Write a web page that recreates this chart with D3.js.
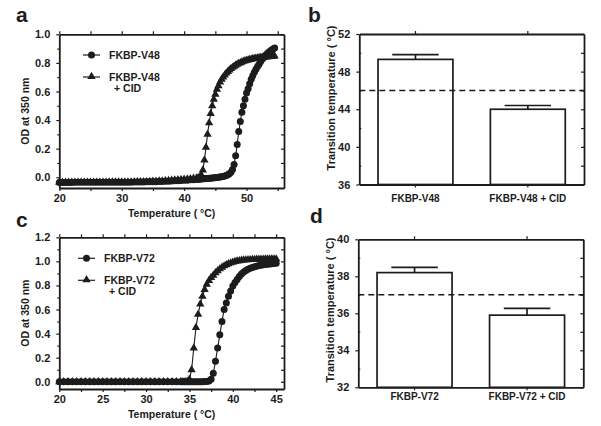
<!DOCTYPE html>
<html>
<head>
<meta charset="utf-8">
<script src="https://cdn.jsdelivr.net/npm/d3@7"></script>
<style>
body { margin: 0; background: #fff; }
svg { display: block; }
text { font-family: "Liberation Sans", Arial, sans-serif; font-weight: bold; fill: #1c1c1c; }
</style>
</head>
<body>
<script>
// ---- data ----
// panel a: FKBP-V48 turbidity
const tempA = [20,20.5,21,21.5,22,22.5,23,23.5,24,24.5,25,25.5,26,26.5,27,27.5,28,28.5,29,29.5,
  30,30.5,31,31.5,32,32.5,33,33.5,34,34.5,35,35.5,36,36.5,37,37.5,38,38.5,39,39.5,40,40.5,41,41.5,42,
  42.25,42.5,42.75,43,43.25,43.5,43.75,44,44.25,44.5,44.75,45,45.25,45.5,45.75,46,46.25,46.5,46.75,47,
  47.25,47.5,47.75,48,48.25,48.5,48.75,49,49.25,49.5,49.75,50,50.25,50.5,50.75,51,51.25,51.5,51.75,52,
  52.25,52.5,52.75,53,53.25,53.5,53.75,54,54.25,54.5]
const odV48 = [-0.036,-0.036,-0.036,-0.036,-0.036,-0.035,-0.035,-0.035,-0.035,-0.035,
  -0.035,-0.035,-0.035,-0.035,-0.035,-0.035,-0.034,-0.034,-0.034,-0.034,
  -0.034,-0.034,-0.034,-0.034,-0.033,-0.033,-0.033,-0.033,-0.032,-0.032,
  -0.031,-0.031,-0.03,-0.029,-0.028,-0.027,-0.026,-0.025,-0.024,-0.022,
  -0.021,-0.02,-0.018,-0.017,-0.015,
  -0.014,-0.013,-0.012,-0.011,-0.01,-0.009,-0.008,-0.007,-0.006,-0.005,
  -0.004,-0.003,-0.001,0.0,0.002,0.004,0.006,0.009,0.013,0.018,
  0.025,0.035,0.055,0.09,0.15,0.23,0.32,0.39,0.455,0.5,
  0.545,0.59,0.62,0.655,0.685,0.71,0.735,0.755,0.775,0.79,
  0.81,0.825,0.838,0.85,0.862,0.873,0.882,0.89,0.897,0.905]
const odV48cid = [-0.036,-0.036,-0.036,-0.036,-0.036,-0.035,-0.035,-0.035,-0.035,-0.035,
  -0.035,-0.035,-0.035,-0.035,-0.035,-0.035,-0.034,-0.034,-0.034,-0.034,
  -0.034,-0.034,-0.033,-0.033,-0.033,-0.032,-0.032,-0.031,-0.031,-0.03,
  -0.029,-0.028,-0.027,-0.026,-0.024,-0.023,-0.021,-0.02,-0.018,-0.016,
  -0.014,-0.012,-0.01,-0.008,-0.006,
  -0.004,-0.001,0.015,0.05,0.12,0.21,0.3,0.38,0.445,0.5,
  0.545,0.58,0.615,0.64,0.665,0.685,0.7,0.715,0.728,0.74,
  0.75,0.76,0.768,0.776,0.783,0.79,0.796,0.801,0.806,0.81,
  0.814,0.817,0.82,0.823,0.825,0.828,0.83,0.832,0.834,0.836,
  0.837,0.839,0.84,0.841,0.842,0.843,0.844,0.845,0.846,0.847]

// panel c: FKBP-V72 turbidity
const tempC = [20,20.5,21,21.5,22,22.5,23,23.5,24,24.5,25,25.5,26,26.5,27,27.5,28,28.5,29,29.5,
  30,30.5,31,31.5,32,32.5,33,33.5,34,
  34.25,34.5,34.75,35,35.25,35.5,35.75,36,36.25,36.5,36.75,37,37.25,37.5,37.75,38,38.25,38.5,38.75,39,
  39.25,39.5,39.75,40,40.25,40.5,40.75,41,41.25,41.5,41.75,42,42.25,42.5,42.75,43,43.25,43.5,43.75,44,
  44.25,44.5,44.75,45]
const odV72 = [0,0,0,0,0,0,0,0,0,0,0,0,0,0,0,0,0,0,0,0,0,0,0,0,0,0,0,0,0,
  0,0,0,0,0,0,0,0,0.001,0.001,0.002,0.003,
  0.006,0.02,0.07,0.17,0.28,0.39,0.5,0.6,0.655,0.71,
  0.755,0.795,0.825,0.85,0.875,0.895,0.912,0.925,0.935,0.942,
  0.949,0.955,0.96,0.965,0.968,0.971,0.974,0.977,0.979,0.981,
  0.983,0.985]
const odV72cid = [0,0,0,0,0,0,0,0,0,0,0,0,0,0,0,0,0,0,0,0,0,0,0,0,0,0,0,0,0,
  0,0,0.002,0.02,0.1,0.28,0.45,0.56,0.645,0.71,
  0.765,0.81,0.84,0.865,0.885,0.905,0.922,0.937,0.95,0.962,
  0.972,0.98,0.987,0.993,0.998,1.002,1.005,1.008,1.01,1.012,
  1.013,1.014,1.015,1.016,1.017,1.017,1.018,1.018,1.019,1.019,
  1.02,1.02,1.02,1.02]

// panels b and d: transition temperatures
const catsB = ["FKBP-V48", "FKBP-V48 + CID"]
const tmB = [49.3, 44.0]
const errB = [0.5, 0.4]
const refB = 46
const catsD = ["FKBP-V72", "FKBP-V72 + CID"]
const tmD = [38.2, 35.9]
const errD = [0.28, 0.37]
const refD = 37

// ticks
const xTicksA = [20,25,30,35,40,45,50,55]
const xLabelsA = [20,30,40,50]
const xTicksC = [20,22.5,25,27.5,30,32.5,35,37.5,40,42.5,45]
const xLabelsC = [20,25,30,35,40,45]
const yTicksA = [0,0.1,0.2,0.3,0.4,0.5,0.6,0.7,0.8,0.9,1.0]
const yTicksC = [0,0.1,0.2,0.3,0.4,0.5,0.6,0.7,0.8,0.9,1.0,1.1,1.2]
const yTicksB = [36,38,40,42,44,46,48,50,52]
const yLabelsB = [36,40,44,48,52]
const yTicksD = [32,33,34,35,36,37,38,39,40]
const yLabelsD = [32,34,36,38,40]

const WIDTH = 601
const HEIGHT = 426
const ink = "#1c1c1c"

const svg = d3.select("body").append("svg")
    .attr("width", WIDTH)
    .attr("height", HEIGHT)

function styleAxis(g, size) {
    g.attr("font-size", size).style("color", ink)
    g.select(".domain").attr("stroke-width", 1.8)
    g.selectAll(".tick line").attr("stroke-width", 1.2)
}

function curvePanel(o) {
    const x = d3.scaleLinear().domain(o.xDomain).range([o.left, o.right])
    const y = d3.scaleLinear().domain(o.yDomain).range([o.bottom, o.top])

    svg.append("g")
        .attr("transform", `translate(0,${o.bottom})`)
        .call(d3.axisBottom(x).tickValues(o.xTicks).tickSize(3).tickSizeOuter(0).tickPadding(3)
            .tickFormat(d => o.xLabels.includes(d) ? d : ""))
        .call(g => styleAxis(g, 11))
    svg.append("g")
        .attr("transform", `translate(0,${o.top})`)
        .call(d3.axisTop(x).tickValues(o.xTicks).tickSize(3).tickSizeOuter(0).tickFormat(""))
        .call(g => styleAxis(g, 11))
    svg.append("g")
        .attr("transform", `translate(${o.left},0)`)
        .call(d3.axisLeft(y).tickValues(o.yTicks).tickSizeOuter(0).tickPadding(3)
            .tickFormat(d => Math.round(d * 10) % 2 == 0 ? d3.format(".1f")(d) : ""))
        .call(g => styleAxis(g, 11))
        .call(g => g.selectAll(".tick line").attr("x2", d => Math.round(d * 10) % 2 == 0 ? -3 : -2))
    svg.append("g")
        .attr("transform", `translate(${o.right},0)`)
        .call(d3.axisRight(y).tickValues(o.yTicks).tickSize(-3).tickSizeOuter(0).tickFormat(""))
        .call(g => styleAxis(g, 11))

    const line = d3.line().x(d => x(d[0])).y(d => y(d[1]))
    const series = [
        { pts: d3.zip(o.temp, o.od), shape: "circle" },
        { pts: d3.zip(o.temp, o.odCid), shape: "triangle" }
    ]
    const tri = d3.symbol(d3.symbolTriangle, 30)
    series.forEach(s => {
        svg.append("path")
            .attr("d", line(s.pts))
            .attr("fill", "none")
            .attr("stroke", ink)
            .attr("stroke-width", 1.1)
        const g = svg.append("g").attr("fill", ink)
        if (s.shape == "circle") {
            g.selectAll("circle").data(s.pts).join("circle")
                .attr("cx", d => x(d[0])).attr("cy", d => y(d[1])).attr("r", 3.5)
        } else {
            g.selectAll("path").data(s.pts).join("path")
                .attr("d", tri)
                .attr("transform", d => `translate(${x(d[0])},${y(d[1])})`)
        }
    })

    // legend
    const lg = svg.append("g").attr("transform", `translate(${o.legX},${o.legY})`)
    lg.append("line").attr("x1", 0).attr("x2", 17).attr("y1", 0).attr("y2", 0)
        .attr("stroke", ink).attr("stroke-width", 1.2)
    lg.append("circle").attr("cx", 8.5).attr("cy", 0).attr("r", 3.5).attr("fill", ink)
    lg.append("text").attr("x", 26).attr("y", 3.8).attr("font-size", 10.5).text(o.names[0])
    lg.append("line").attr("x1", 0).attr("x2", 17).attr("y1", 22).attr("y2", 22)
        .attr("stroke", ink).attr("stroke-width", 1.2)
    lg.append("path").attr("d", tri).attr("transform", "translate(8.5,21.5)").attr("fill", ink)
    lg.append("text").attr("x", 26).attr("y", 26).attr("font-size", 10.5).text(o.names[0])
    lg.append("text").attr("x", 31).attr("y", 37).attr("font-size", 10.5).text("+ CID")

    svg.append("text")
        .attr("x", (o.left + o.right) / 2).attr("y", o.bottom + 29)
        .attr("text-anchor", "middle").attr("font-size", 10.5)
        .text("Temperature ( \u00B0C)")
    svg.append("text")
        .attr("transform", `translate(${o.left - 30},${(o.top + o.bottom) / 2}) rotate(-90)`)
        .attr("text-anchor", "middle").attr("font-size", 10.5)
        .text("OD at 350 nm")
}

function barPanel(o) {
    const x = d3.scaleBand().domain(o.cats).range([o.left, o.right])
        .paddingInner(1 / 3).paddingOuter(1 / 6)
    const y = d3.scaleLinear().domain(o.yDomain).range([o.bottom, o.top])

    svg.append("g")
        .attr("transform", `translate(0,${o.bottom})`)
        .call(d3.axisBottom(x).tickSize(3).tickSizeOuter(0).tickPadding(o.labelPad))
        .call(g => styleAxis(g, 10))
    svg.append("g")
        .attr("transform", `translate(0,${o.top})`)
        .call(d3.axisTop(x).tickSize(3).tickSizeOuter(0).tickFormat(""))
        .call(g => styleAxis(g, 10))
    svg.append("g")
        .attr("transform", `translate(${o.left},0)`)
        .call(d3.axisLeft(y).tickValues(o.yTicks).tickSizeOuter(0).tickPadding(3)
            .tickFormat(d => o.yLabels.includes(d) ? d : ""))
        .call(g => styleAxis(g, 11))
        .call(g => g.selectAll(".tick line").attr("x2", d => o.yLabels.includes(d) ? -3 : 2))
    svg.append("g")
        .attr("transform", `translate(${o.right},0)`)
        .call(d3.axisRight(y).tickValues(o.yTicks).tickSize(-3).tickSizeOuter(0).tickFormat(""))
        .call(g => styleAxis(g, 11))

    const data = o.cats.map((c, i) => ({ c: c, v: o.vals[i], e: o.errs[i] }))
    const cap = x.bandwidth() * 0.31
    const g = svg.append("g").attr("stroke", ink).attr("stroke-width", 1.7)
    g.selectAll("rect").data(data).join("rect")
        .attr("x", d => x(d.c))
        .attr("y", d => y(d.v))
        .attr("width", x.bandwidth())
        .attr("height", d => y(o.yDomain[0]) - y(d.v))
        .attr("fill", "#fff")
    g.selectAll("line.err").data(data).join("line")
        .attr("class", "err")
        .attr("x1", d => x(d.c) + x.bandwidth() / 2).attr("x2", d => x(d.c) + x.bandwidth() / 2)
        .attr("y1", d => y(d.v)).attr("y2", d => y(d.v + d.e))
    g.selectAll("line.cap").data(data).join("line")
        .attr("class", "cap")
        .attr("x1", d => x(d.c) + x.bandwidth() / 2 - cap).attr("x2", d => x(d.c) + x.bandwidth() / 2 + cap)
        .attr("y1", d => y(d.v + d.e)).attr("y2", d => y(d.v + d.e))

    svg.append("line")
        .attr("x1", o.left).attr("x2", o.right)
        .attr("y1", y(o.ref)).attr("y2", y(o.ref))
        .attr("stroke", ink).attr("stroke-width", 1.6)
        .attr("stroke-dasharray", "6,4")

    svg.append("text")
        .attr("transform", `translate(${o.left - 24},${o.titleY}) rotate(-90)`)
        .attr("text-anchor", "middle").attr("font-size", 11)
        .text("Transition temperature (  \u00B0C)")
}

curvePanel({
    left: 59.3, right: 284, top: 34.3, bottom: 188,
    xDomain: [20, 56], yDomain: [-0.075, 1.0],
    xTicks: xTicksA, xLabels: xLabelsA, yTicks: yTicksA,
    temp: tempA, od: odV48, odCid: odV48cid,
    names: ["FKBP-V48"], legX: 83, legY: 55
})
curvePanel({
    left: 59.3, right: 284, top: 237.3, bottom: 389,
    xDomain: [20, 45.9], yDomain: [-0.06, 1.2],
    xTicks: xTicksC, xLabels: xLabelsC, yTicks: yTicksC,
    temp: tempC, od: odV72, odCid: odV72cid,
    names: ["FKBP-V72"], legX: 78, legY: 258.3
})
barPanel({
    left: 359.3, right: 584, top: 34, bottom: 184.5,
    yDomain: [36, 52], yTicks: yTicksB, yLabels: yLabelsB,
    cats: catsB, vals: tmB, errs: errB, ref: refB, labelPad: 7, titleY: 98
})
barPanel({
    left: 358.3, right: 583.3, top: 239.3, bottom: 387.3,
    yDomain: [32, 40], yTicks: yTicksD, yLabels: yLabelsD,
    cats: catsD, vals: tmD, errs: errD, ref: refD, labelPad: 3, titleY: 310
})

// panel letters
const letters = [["a", 16, 21.7], ["b", 308, 21.7], ["c", 16, 226.5], ["d", 310, 223]]
svg.selectAll("text.letter").data(letters).join("text")
    .attr("class", "letter")
    .attr("x", d => d[1]).attr("y", d => d[2])
    .attr("font-size", 21)
    .text(d => d[0])
</script>
</body>
</html>
